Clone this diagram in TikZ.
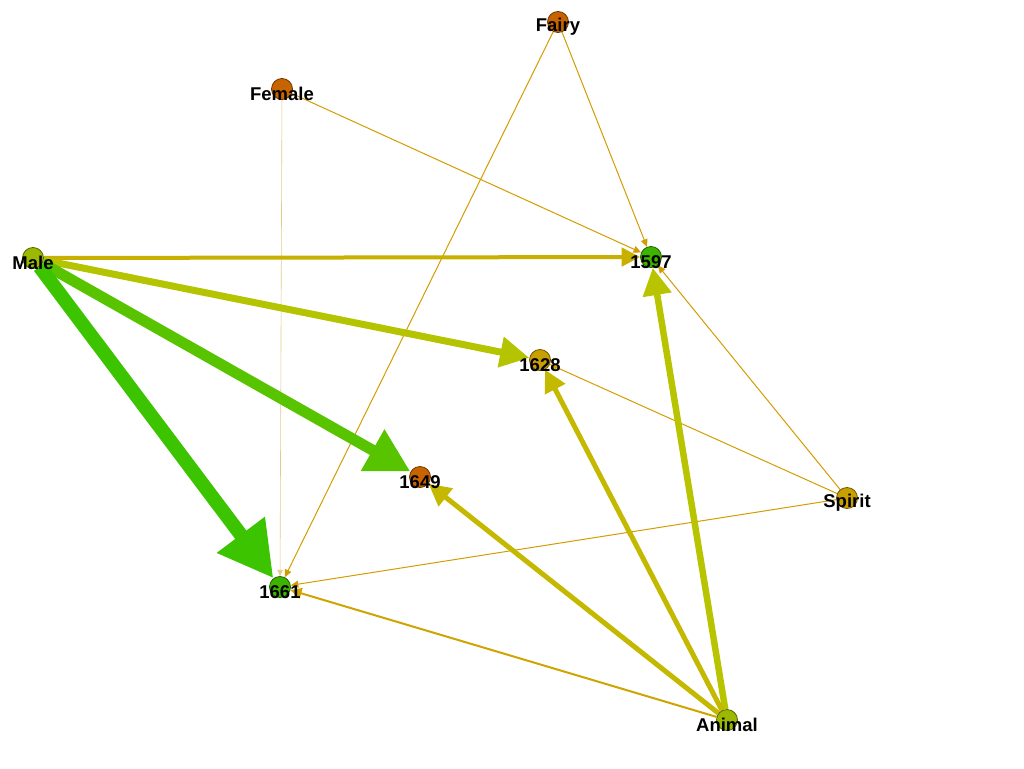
\documentclass[tikz,border=0pt]{standalone}
\usepackage{fontspec}
\setmainfont{Liberation Sans}
\usepackage{xcolor}
\usetikzlibrary{arrows.meta,backgrounds}
\definecolor{orangenode}{HTML}{C86400}
\definecolor{goldnode}{HTML}{C8A000}
\definecolor{greennode}{HTML}{3CB400}
\definecolor{olivenode}{HTML}{9CB800}
\definecolor{goldedge}{HTML}{D49C00}
\definecolor{paleedge}{HTML}{E6C88A}
\definecolor{maleA}{HTML}{C8B000}
\definecolor{maleB}{HTML}{B4C400}
\definecolor{maleC}{HTML}{58C400}
\definecolor{maleD}{HTML}{3CC400}
\definecolor{animalA}{HTML}{B8C400}
\definecolor{animalB}{HTML}{C4B800}
\definecolor{animalC}{HTML}{D0A400}
\tikzset{
	vtx/.style={circle,minimum size=21pt,inner sep=0pt,fill=#1,draw=#1!55!black,line width=0.8pt},
	lbl/.style={font=\fontsize{18.5}{18.5}\selectfont\bfseries,text=black,yshift=-5pt,inner sep=0pt},
	tie/.style 2 args={draw=#1,line width=#2pt,-{Triangle[length=4pt 3.6,width=3pt 3.8]}}
}
\begin{document}
\begin{tikzpicture}[x=1pt,y=-1pt]
	\useasboundingbox (0,0) rectangle (1024,768);
	\node[vtx=olivenode,label={[lbl]center:Male}] (male) at (33,258) {};
	\node[vtx=orangenode,label={[lbl]center:Female}] (female) at (282,89) {};
	\node[vtx=orangenode,label={[lbl]center:Fairy}] (fairy) at (558,22) {};
	\node[vtx=goldnode,label={[lbl]center:Spirit}] (spirit) at (847,498) {};
	\node[vtx=olivenode,label={[lbl]center:Animal}] (animal) at (727,720) {};
	\node[vtx=greennode,label={[lbl]center:1597}] (y1597) at (651,257) {};
	\node[vtx=goldnode,label={[lbl]center:1628}] (y1628) at (540,360) {};
	\node[vtx=orangenode,label={[lbl]center:1649}] (y1649) at (420,477) {};
	\node[vtx=greennode,label={[lbl]center:1661}] (y1661) at (280,587) {};
	\begin{scope}[on background layer]
		% thin ties
		\draw[tie={goldedge}{1}] (fairy) -- (y1597);
		\draw[tie={goldedge}{1}] (fairy) -- (y1661);
		\draw[tie={goldedge}{1}] (female) -- (y1597);
		\draw[tie={paleedge}{0.6}] (female) -- (y1661);
		\draw[tie={goldedge}{1}] (spirit) -- (y1597);
		\draw[tie={goldedge}{1}] (spirit) -- (y1628);
		\draw[tie={goldedge}{1}] (spirit) -- (y1661);
		% male
		\draw[tie={maleA}{4}] (male) -- (y1597);
		\draw[tie={maleB}{7}] (male) -- (y1628);
		\draw[tie={maleC}{11}] (male) -- (y1649);
		\draw[tie={maleD}{14}] (male) -- (y1661);
		% animal
		\draw[tie={animalA}{6.5}] (animal) -- (y1597);
		\draw[tie={animalB}{5}] (animal) -- (y1628);
		\draw[tie={animalB}{5}] (animal) -- (y1649);
		\draw[tie={animalC}{2}] (animal) -- (y1661);
	\end{scope}
\end{tikzpicture}
\end{document}
